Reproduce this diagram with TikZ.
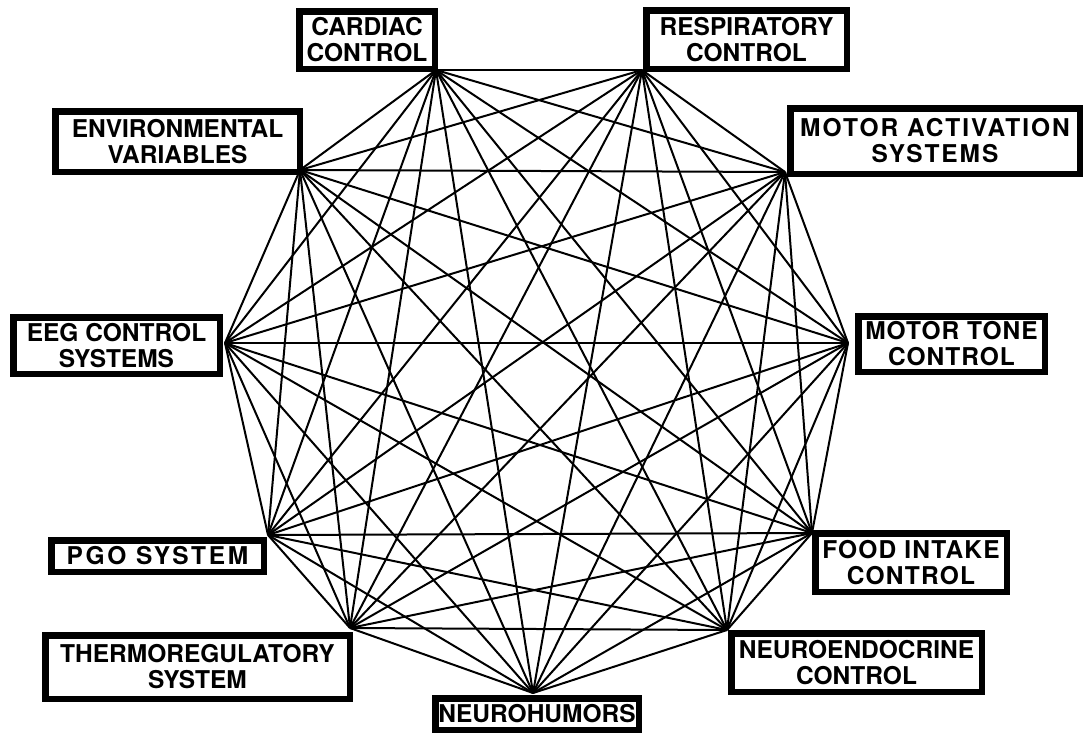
\documentclass[tikz,border=0pt]{standalone}
\usepackage{fontspec}
\setmainfont{TeX Gyre Heros}
\begin{document}
\begin{tikzpicture}[x=1pt,y=-1pt,
  box/.style={draw, line width=6.5pt, fill=white, inner sep=0pt, align=center,
    font=\fontsize{24.5}{26}\selectfont\bfseries},
  link/.style={line width=2pt}]
\useasboundingbox[fill=white] (0,0) rectangle (1090,740);
\newcommand\mybox[6]{\node[box, minimum width={#4-#2-6.5}, minimum height={#5-#3-6.5}] (#1) at ({(#2+#4)/2},{(#3+#5)/2}) {#6};}
\newcommand\spread[1]{\addfontfeature{LetterSpace=#1}}
% connection points
\coordinate (p1) at (436,70);
\coordinate (p2) at (642,70);
\coordinate (p3) at (300,170);
\coordinate (p4) at (785,172);
\coordinate (p5) at (225,343);
\coordinate (p6) at (848,343);
\coordinate (p7) at (268,535);
\coordinate (p8) at (812,533);
\coordinate (p9) at (350,628);
\coordinate (p10) at (727,630);
\coordinate (p11) at (533,693);
% links
\foreach \i in {1,...,10}{
  \pgfmathtruncatemacro\k{\i+1}
  \foreach \j in {\k,...,11}{\draw[link] (p\i) -- (p\j);}
}
% boxes
\mybox{cardiac}{296}{8}{438}{72}{CARDIAC\\CONTROL}
\mybox{resp}{643}{7}{850}{72}{RESPIRATORY\\CONTROL}
\mybox{env}{52}{108}{303}{175}{ENVIRONMENTAL\\VARIABLES}
\mybox{motact}{787}{105}{1083}{177}{\spread{8}MOTOR ACTIVATION\\\spread{8}SYSTEMS}
\mybox{eeg}{10}{314}{223}{377}{EEG CONTROL\\SYSTEMS}
\mybox{mottone}{855}{313}{1048}{375}{\spread{4}MOTOR TONE\\\spread{4}CONTROL}
\mybox{pgo}{48}{537}{267}{575}{\spread{11}PGO SYSTEM}
\mybox{food}{812}{530}{1010}{595}{\spread{5}FOOD INTAKE\\\spread{5}CONTROL}
\mybox{thermo}{42}{632}{353}{702}{THERMOREGULATORY\\SYSTEM}
\mybox{neuroendo}{728}{630}{985}{695}{NEUROENDOCRINE\\CONTROL}
\mybox{neurohum}{432}{695}{642}{733}{NEUROHUMORS}
\end{tikzpicture}
\end{document}
